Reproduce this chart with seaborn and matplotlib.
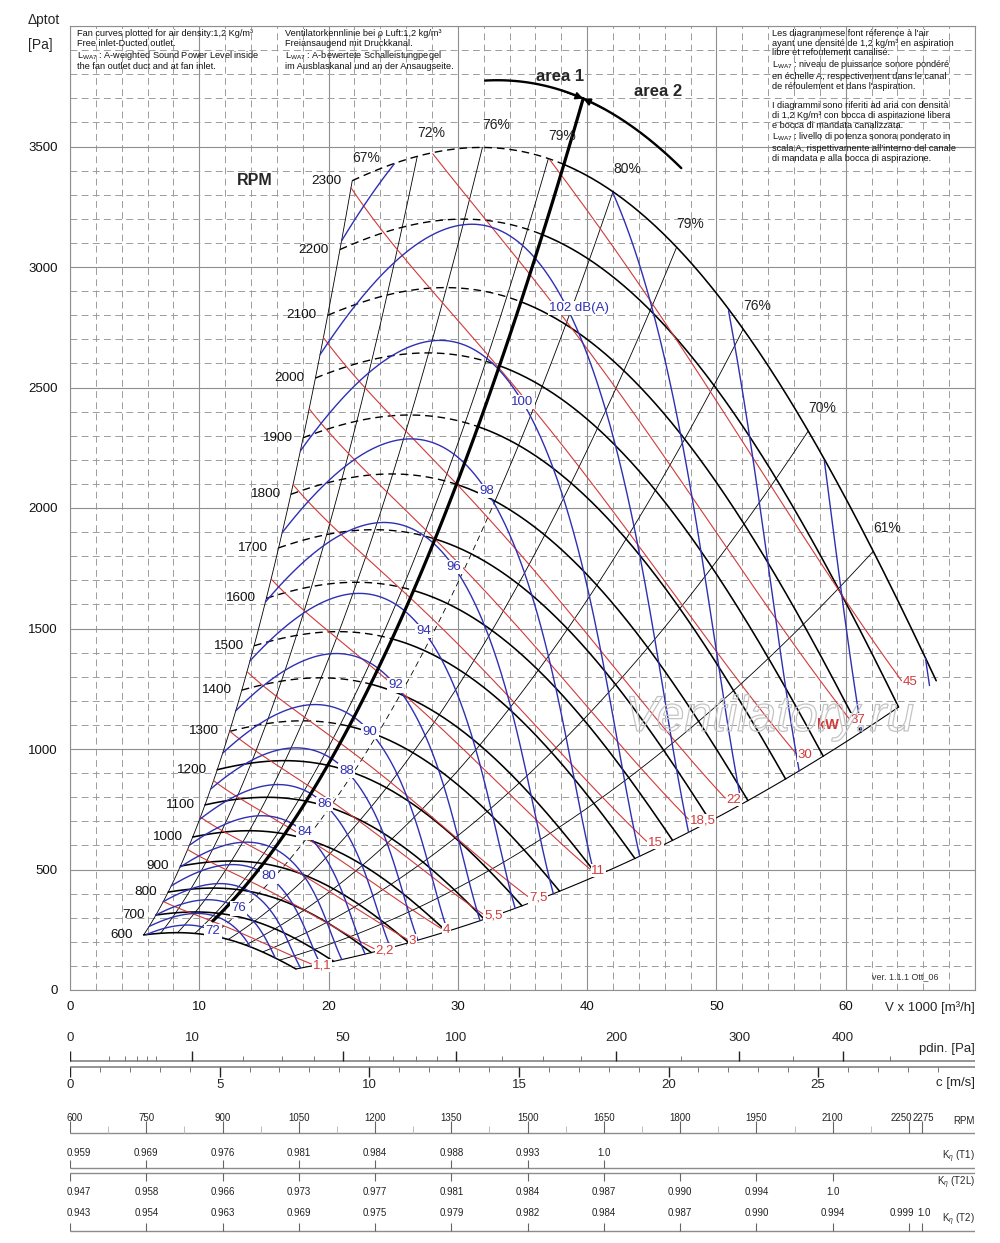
import numpy as np
import pandas as pd
import matplotlib
matplotlib.use("Agg")
import matplotlib.pyplot as plt
import matplotlib.patheffects as pe
from matplotlib import font_manager as fm
import seaborn as sns

W, H = 1000, 1243

# outer fan curve at 2300 rpm (V x 1000 m3/h, Pa)
BASE_RPM = 2300
BASE_Q = [21.83, 26.86, 28.36, 31.9, 37.0, 42.0, 46.92, 52.07, 57.1, 62.13, 66.64]
BASE_P = [3366, 3448, 3466, 3501, 3466, 3324, 3065, 2733, 2318, 1840, 1315]
Q0_END = 67.0                      # right hand limit of the field

RPM = list(range(600, 2301, 100))
DASH_RPM = 1300                    # dashed left of the area line from this speed up
BOUNDARY_RPM = (600, 2200)

# efficiency lines, labelled on the 2300 curve
EFF_LABEL = ["67%", "72%", "76%", "79%", "80%", "79%", "76%", "70%", "61%"]
EFF_Q0 = [21.83, 26.86, 31.9, 37.0, 42.0, 46.92, 52.07, 57.1, 62.13]
EFF_VAL = [67, 72, 76, 79, 80, 79, 76, 70, 61]
EFF_END = 49                       # estimated at the right edge
EFF80_DASH_BELOW = 1800

# sound power on the 2300 curve, dB(A)
SOUND_Q0 = [21.83, 25.5, 33.0, 42.0, 50.66, 58.5, 67.0]
SOUND_DB = [104.9, 104.0, 103.1, 104.0, 106.0, 108.0, 110.2]
SOUND_EXP = 56
DB_LEVELS = list(range(72, 111, 2))
DB_TAGGED = [72, 76, 80, 84, 86, 88, 90, 92, 94, 96, 98, 100, 102]
DB_TAG_Q0 = 41.0

# absorbed power lines
KW_LEVELS = [1.1, 2.2, 3, 4, 5.5, 7.5, 11, 15, 18.5, 22, 30, 37, 45]
KW_TEXT = ["1,1", "2,2", "3", "4", "5,5", "7,5", "11", "15", "18,5", "22", "30", "37", "45"]
KW_Q0_END = 66.3

# area 1 / area 2 line and limit arc
AREA_Q0 = 38.2
AREA_LINE_RPM = (665, 2390)
AREA_ARC_RPM = 2390
AREA_ARC_Q0 = (30.9, 45.5)

# dynamic pressure and outlet velocity scales
OUTLET_AREA = 0.643
RHO = 1.2
PDIN_MAJOR = [0, 10, 50, 100, 200, 300, 400]
PDIN_MINOR = [1, 2, 3, 4, 5, 20, 30, 40, 60, 70, 80, 90, 125, 150, 175, 250, 350, 450]
C_MAJOR = [0, 5, 10, 15, 20, 25]
C_MINOR = [c for c in range(1, 30) if c % 5]

# correction table
TABLE_RPM = [600, 750, 900, 1050, 1200, 1350, 1500, 1650, 1800, 1950, 2100, 2250, 2275]
TABLE_RPM_MINOR = list(range(675, 2200, 150))
TABLE_RPM_MAX = 2380
K_T1 = ["0.959", "0.969", "0.976", "0.981", "0.984", "0.988", "0.993", "1.0"]
K_T2L = ["0.947", "0.958", "0.966", "0.973", "0.977", "0.981", "0.984", "0.987",
         "0.990", "0.994", "1.0"]
K_T2 = ["0.943", "0.954", "0.963", "0.969", "0.975", "0.979", "0.982", "0.984",
        "0.987", "0.990", "0.994", "0.999", "1.0"]

TXT_EN = ("Fan curves plotted for air density:1,2 Kg/m³\nFree inlet-Ducted outlet.\n"
          "L$_{\\mathrm{WA7}}$ : A-weighted Sound Power Level inside\nthe fan outlet duct and at fan inlet.")
TXT_DE = ("Ventilatorkennlinie bei ρ Luft:1,2 kg/m³\nFreiansaugend mit Druckkanal.\n"
          "L$_{\\mathrm{WA7}}$ : A-bewertete Schalleistungpegel\nim Ausblaskanal und an der Ansaugseite.")
TXT_FR_IT = ("Les diagrammese font réference à l'air\nayant une densité de 1,2 kg/m³ en aspiration\n"
             "libre et refoulement canalisé.\n"
             "L$_{\\mathrm{WA7}}$ : niveau de puissance sonore pondéré\n"
             "en échelle A, respectivement dans le canal\nde réfoulement et dans l'aspiration.\n\n"
             "I diagrammi sono riferiti ad aria con densità\ndi 1,2 Kg/m³ con bocca di aspirazione libera\n"
             "e bocca di mandata canalizzata.\n"
             "L$_{\\mathrm{WA7}}$ : livello di potenza sonora ponderato in\n"
             "scala A, rispettivamente all'interno del canale\ndi mandata e alla bocca di aspirazione.")

sns.set_theme(style="white")
plt.rcParams["font.family"] = ["Liberation Sans", "DejaVu Sans"]
plt.rcParams["mathtext.fontset"] = "custom"
plt.rcParams["mathtext.rm"] = "Liberation Sans"
plt.rcParams["mathtext.it"] = "Liberation Sans:italic"

# narrow font for the table if there is one
try:
    fm.findfont(fm.FontProperties(family="Liberation Sans Narrow"), fallback_to_default=False)
    NARROW, TSIZE = ["Liberation Sans Narrow", "DejaVu Sans"], 8
except ValueError:
    NARROW, TSIZE = ["Liberation Sans", "DejaVu Sans"], 7

BLUE = "#2f2fb4"
RED = "#d23a3a"

pfit = np.polyfit(BASE_Q, BASE_P, 4)
efit = np.polyfit(EFF_Q0 + [Q0_END], EFF_VAL + [EFF_END], 4)
sfit = np.polyfit(SOUND_Q0, SOUND_DB, 4)


def p0(q):
    return np.polyval(pfit, q)


def duty(q0, n):
    r = np.asarray(n, float) / BASE_RPM
    return q0 * r, p0(q0) * r * r


def runs(q, p, mask, tag):
    idx = np.flatnonzero(mask)
    out = []
    if idx.size < 2:
        return out
    for k, run in enumerate(np.split(idx, np.flatnonzero(np.diff(idx) > 1) + 1)):
        if run.size > 1:
            out.append(pd.DataFrame({"Q": q[run], "p": p[run], "seg": f"{tag}-{k}"}))
    return out


fig = plt.figure(figsize=(W / 100, H / 100), dpi=100)
ax = fig.add_axes([70 / W, 1 - 990 / H, 905 / W, (990 - 26) / H])


def draw(frames, color, lw, ls="-", z=3):
    if not frames:
        return
    df = pd.concat(frames, ignore_index=True)
    sns.lineplot(data=df, x="Q", y="p", units="seg", estimator=None, sort=False,
                 color=color, linewidth=lw, linestyle=ls, zorder=z, ax=ax, legend=False)


# speed curves
q0 = np.linspace(BASE_Q[0], Q0_END, 300)
solid, dashed = [], []
for n in RPM:
    q, p = duty(q0, n)
    if n >= DASH_RPM:
        dashed += runs(q, p, q0 <= AREA_Q0, f"r{n}d")
        solid += runs(q, p, q0 >= AREA_Q0 - 0.1, f"r{n}s")
    else:
        solid += runs(q, p, np.ones_like(q0, bool), f"r{n}")
draw(solid, "black", 1.15, z=3)
draw(dashed, "black", 1.0, ls=(0, (5.5, 3.5)), z=3)

# lower boundary
nb = np.linspace(*BOUNDARY_RPM, 100)
qb, pb = duty(Q0_END, nb)
draw(runs(qb, pb, np.ones_like(nb, bool), "bnd"), "black", 0.8, z=3)

# efficiency lines
ne = np.linspace(RPM[0], BASE_RPM, 120)
eff_solid, eff_dash = [], []
for i, qe in enumerate(EFF_Q0):
    q, p = duty(qe, ne)
    if EFF_VAL[i] == 80:
        eff_dash += runs(q, p, ne <= EFF80_DASH_BELOW, f"e{i}d")
        eff_solid += runs(q, p, ne >= EFF80_DASH_BELOW, f"e{i}s")
    else:
        eff_solid += runs(q, p, np.ones_like(ne, bool), f"e{i}")
    ax.annotate(EFF_LABEL[i], (qe, p0(qe)), xytext=(10, 16.5), textcoords="offset points",
                ha="center", va="center", fontsize=10, color="#222222", zorder=7)
draw(eff_solid, "black", 0.6, z=2)
draw(eff_dash, "black", 0.6, ls=(0, (7, 5)), z=2)

# absorbed power lines
qk = np.linspace(BASE_Q[0], KW_Q0_END, 300)
pw0 = qk * p0(qk) / (3600 * np.polyval(efit, qk) / 100)
kw_frames = []
for lvl, txt in zip(KW_LEVELS, KW_TEXT):
    n = BASE_RPM * (lvl / pw0) ** (1 / 3)
    q, p = duty(qk, n)
    m = (n >= RPM[0]) & (n <= BASE_RPM)
    kw_frames += runs(q, p, m, f"k{lvl}")
    j = np.flatnonzero(m)[-1]
    ax.annotate(txt, (q[j], p[j]), xytext=(1, -1), textcoords="offset points", ha="left",
                va="center", fontsize=9.5, color=RED, zorder=8,
                bbox=dict(boxstyle="square,pad=0.05", fc="white", ec="none"))
draw(kw_frames, RED, 0.8, z=3)

# sound power lines
qs = np.linspace(BASE_Q[0], Q0_END, 500)
ls0 = np.polyval(sfit, qs)
db_frames = []
for lvl in DB_LEVELS:
    n = BASE_RPM * 10 ** ((lvl - ls0) / SOUND_EXP)
    q, p = duty(qs, n)
    db_frames += runs(q, p, (n >= RPM[0]) & (n <= BASE_RPM), f"s{lvl}")
    if lvl in DB_TAGGED:
        nt = BASE_RPM * 10 ** ((lvl - np.polyval(sfit, DB_TAG_Q0)) / SOUND_EXP)
        xt, yt = duty(DB_TAG_Q0, nt)
        big = lvl == DB_TAGGED[-1]
        ax.annotate(f"{lvl} dB(A)" if big else str(lvl), (xt, yt),
                    xytext=(-9, -8) if big else (0, 0), textcoords="offset points",
                    ha="left" if big else "center", va="center", fontsize=9.5, color=BLUE,
                    zorder=8, bbox=dict(boxstyle="square,pad=0.1", fc="white", ec="none"))
draw(db_frames, BLUE, 1.0, z=4)

# area line and limit arc
na = np.linspace(*AREA_LINE_RPM, 100)
qa, pa = duty(AREA_Q0, na)
draw(runs(qa, pa, np.ones_like(na, bool), "area"), "black", 2.3, z=5)
qc = np.linspace(*AREA_ARC_Q0, 100)
xc, yc = duty(qc, AREA_ARC_RPM)
draw(runs(xc, yc, np.ones_like(qc, bool), "arc"), "black", 1.7, z=5)
tip = duty(AREA_Q0, AREA_ARC_RPM)
for qq in (AREA_Q0 - 1.6, AREA_Q0 + 1.6):
    ax.annotate("", xy=tip, xytext=duty(qq, AREA_ARC_RPM),
                arrowprops=dict(arrowstyle="-|>", color="black", lw=1.2, mutation_scale=11,
                                shrinkA=0, shrinkB=0), zorder=6)
ax.text(37.9, 3790, "area 1", fontsize=12, fontweight="bold", ha="center", va="center")
ax.text(45.5, 3728, "area 2", fontsize=12, fontweight="bold", ha="center", va="center")

# rpm labels
for n in RPM:
    xs, ys = duty(BASE_Q[0], n)
    ax.annotate(str(n), (xs, ys), xytext=(-8, 0), textcoords="offset points",
                ha="right", va="center", fontsize=9.7, color="#111111", zorder=7)
ax.text(14.3, 3360, "RPM", fontsize=11.5, fontweight="bold", ha="center", va="center")
ax.text(58.6, 1100, "kW", fontsize=10.5, fontweight="bold", color=RED, ha="center",
        va="center", zorder=8)
ax.text(54.1, 1129, "Ventilatory.ru", fontsize=36, fontstyle="italic", color="none",
        ha="center", va="center", zorder=9,
        path_effects=[pe.withStroke(linewidth=0.9, foreground="#c4c4c4")])

# axes, grid
ax.set_xlim(0, 70)
ax.set_ylim(0, 4000)
ax.set_xticks(range(0, 71, 10))
ax.set_xticklabels([str(v) for v in range(0, 61, 10)] + [""])
ax.set_xticks(range(0, 71, 2), minor=True)
ax.set_yticks(range(0, 4001, 500))
ax.set_yticklabels([str(v) for v in range(0, 3501, 500)] + [""])
ax.set_yticks(range(0, 4001, 100), minor=True)
ax.tick_params(which="both", length=0, labelsize=9.5, colors="#111111")
ax.tick_params(axis="y", pad=9)
ax.tick_params(axis="x", pad=8)
ax.grid(which="major", color="#8f8f8f", lw=0.8)
ax.grid(which="minor", color="#9c9c9c", lw=0.7, ls=(0, (7, 4.5)))
ax.set_axisbelow(True)
ax.set_xlabel("")
ax.set_ylabel("")
for s in ax.spines.values():
    s.set_color("#8f8f8f")
    s.set_linewidth(0.8)

fig.text(28 / W, 1 - 20 / H, "Δptot", fontsize=10, ha="left", va="center")
fig.text(28 / W, 1 - 45 / H, "[Pa]", fontsize=10, ha="left", va="center")
fig.text(975 / W, 1 - 1008 / H, "V x 1000 [m³/h]", fontsize=9.5, ha="right", va="center")
fig.text(905 / W, 1 - 977 / H, "ver. 1.1.1 Ott_06", fontsize=6.5, ha="center", va="center",
         color="#333333")
for x0, txt in ((77, TXT_EN), (285, TXT_DE), (772, TXT_FR_IT)):
    fig.text(x0 / W, 1 - 29 / H, txt, fontsize=6.6, ha="left", va="top", linespacing=1.1,
             color="#111111")

# dynamic pressure / velocity scales (y in pixel rows)
axb = fig.add_axes([70 / W, 0, 905 / W, 1 - 1020 / H])
axb.set_xlim(0, 70)
axb.set_ylim(H, 1020)
axb.axis("off")


def v_of_c(c):
    return np.asarray(c, float) * 3.6 * OUTLET_AREA


def c_of_p(p):
    return np.sqrt(2 * np.asarray(p, float) / RHO)


axb.hlines([1061, 1067], 0, 70, color="#8c8c8c", lw=1.3)
vp = v_of_c(c_of_p(PDIN_MAJOR))
axb.vlines(vp, 1051, 1061, color="#222222", lw=1.0)
axb.vlines(v_of_c(c_of_p(PDIN_MINOR)), 1056, 1061, color="#777777", lw=0.7)
for v, lab in zip(vp, PDIN_MAJOR):
    axb.text(v, 1038, str(lab), fontsize=9.5, ha="center", va="center")
vc = v_of_c(C_MAJOR)
axb.vlines(vc, 1067, 1077, color="#222222", lw=1.0)
axb.vlines(v_of_c(C_MINOR), 1067, 1072, color="#777777", lw=0.7)
for v, lab in zip(vc, C_MAJOR):
    axb.text(v, 1085, str(lab), fontsize=9.5, ha="center", va="center")
axb.text(70, 1049, "pdin. [Pa]", fontsize=9.5, ha="right", va="center")
axb.text(70, 1083, "c [m/s]", fontsize=9.5, ha="right", va="center")

# correction table
axt = fig.add_axes([70 / W, 0, 905 / W, 1 - 1020 / H])
axt.set_xlim(600, TABLE_RPM_MAX)
axt.set_ylim(H, 1020)
axt.axis("off")


def row(labels, rpms, y_line, y_tick, y_text):
    axt.vlines(rpms[:len(labels)], y_line, y_tick, color="#666666", lw=0.8)
    for i, (r, lab) in enumerate(zip(rpms, labels)):
        shift = -6 if i == 0 else (-14 if r == 2250 else (4 if r == 2275 else 0))
        axt.text(r + shift, y_text, lab, fontsize=TSIZE, family=NARROW,
                 ha="left" if i == 0 else "center", va="center", color="#222222")


for y in (1133, 1168, 1173, 1231):
    axt.hlines(y, 600, TABLE_RPM_MAX, color="#8c8c8c", lw=1.0)
axt.vlines(TABLE_RPM_MINOR, 1126, 1133, color="#bbbbbb", lw=0.7)
row([str(r) for r in TABLE_RPM], TABLE_RPM, 1133, 1121, 1118)
row(K_T1, TABLE_RPM, 1168, 1160, 1153)
row(K_T2L, TABLE_RPM, 1173, 1181, 1192)
row(K_T2, TABLE_RPM, 1231, 1223, 1213)
axt.text(TABLE_RPM_MAX, 1121, "RPM", fontsize=TSIZE, family=NARROW, ha="right", va="center")
axt.text(TABLE_RPM_MAX, 1157, "K$_\\eta$ (T1)", fontsize=TSIZE, family=NARROW, ha="right", va="center")
axt.text(TABLE_RPM_MAX, 1183, "K$_\\eta$ (T2L)", fontsize=TSIZE, family=NARROW, ha="right", va="center")
axt.text(TABLE_RPM_MAX, 1220, "K$_\\eta$ (T2)", fontsize=TSIZE, family=NARROW, ha="right", va="center")

fig.savefig("out.png", dpi=100)
